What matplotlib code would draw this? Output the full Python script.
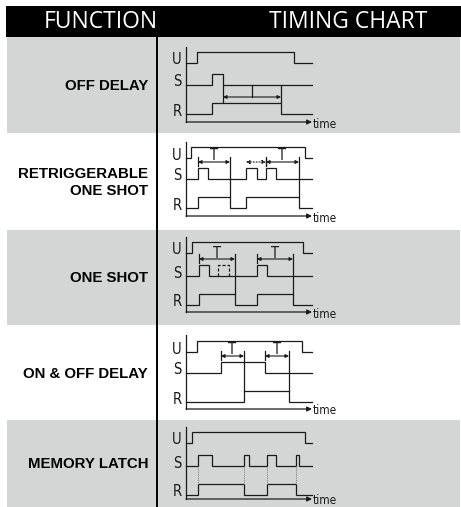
import matplotlib.pyplot as plt
import numpy as np

# Timing chart of relay functions (U = supply, S = control, R = relay output)
functions = ['OFF DELAY', 'RETRIGGERABLE\nONE SHOT', 'ONE SHOT',
             'ON & OFF DELAY', 'MEMORY LATCH']

# switching instants, in time units measured from the chart's left axis
t_end = 126
u_on = [11, 5, 6, 11, 6]
u_off = [108, 119, 117, 116, 119]
s_pulses = [[(26, 37)],
            [(12, 22), (60, 71), (80, 90)],
            [(13, 23), (71, 81)],
            [(35, 79)],
            [(12, 26), (58, 63), (81, 90), (110, 113)]]
s_ghost = [[], [], [(32, 43)], [], []]          # dashed pulse (ignored input)
r_pulses = [[(26, 95)],
            [(12, 44), (60, 113)],
            [(13, 49), (71, 107)],
            [(58, 103)],
            [(12, 58), (81, 110)]]
t_spans = [[(37, 95)],
           [(12, 44), (80, 113)],
           [(13, 49), (71, 107)],
           [(35, 58), (79, 103)],
           []]
t_dotted = [[], [(60, 80)], [], [], []]         # dotted part of a retriggered T
latch_marks = [[], [], [], [], [12, 58, 81, 110]]

# layout (pixels)
W, H = 461, 507
bands = [(37, 133), (133, 230), (230, 325), (325, 420), (420, 507)]
x_axis = 186
x_div = 157
time_y = [122, 216, 312, 409, 499]
u_y = [63, 158, 253, 352, 443]
s_y = [85, 179, 276, 373, 466]
r_y = [114, 208, 305, 402, 495]
top_y = [47, 142, 237, 335, 427]
hi = 11
gray = '#d4d6d5'
ink = '#1a1a1a'
lw = 0.9

fig = plt.figure(figsize=(W / 100, H / 100), dpi=100)
ax = fig.add_axes([0, 0, 1, 1])
ax.set_xlim(0, W)
ax.set_ylim(H, 0)
ax.axis('off')

# header
ax.add_patch(plt.Rectangle((6, 6), W - 6, 31, color='black', lw=0))
ax.text(101, 22, 'FUNCTION', color='white', fontsize=16.5, ha='center',
        va='center', family='Open Sans')
ax.text(348, 22, 'TIMING CHART', color='white', fontsize=16.5, ha='center',
        va='center', family='Open Sans')

for i, (y0, y1) in enumerate(bands):
    if i % 2 == 0:
        ax.add_patch(plt.Rectangle((7, y0), 453, y1 - y0, color=gray, lw=0))
    ax.text(148, (y0 + y1) / 2 + 1, functions[i], ha='right', va='center',
            fontsize=10.8, fontweight='bold', family='Liberation Sans',
            linespacing=1.25)

ax.plot([x_div, x_div], [37, H], color='black', lw=1.4)


def trace(y_low, edges, start, end):
    xs, ys = [start], [y_low]
    for a, b in edges:
        xs += [a, a, b, b]
        ys += [y_low, y_low - hi, y_low - hi, y_low]
    xs.append(end)
    ys.append(y_low)
    ax.plot(x_axis + np.array(xs), ys, color=ink, lw=lw,
            solid_joinstyle='miter')


def arrow(xa, xb, y, ls='-'):
    ax.annotate('', xy=(x_axis + xb, y), xytext=(x_axis + xa, y),
                arrowprops=dict(arrowstyle='<|-|>', color=ink, lw=0.8,
                                ls=ls, mutation_scale=5,
                                shrinkA=0, shrinkB=0))


lab_font = dict(family='DejaVu Sans', stretch='condensed',
                fontsize=10.5, color=ink, ha='center', va='center')

for i in range(len(functions)):
    # axes
    ax.plot([x_axis, x_axis], [top_y[i], time_y[i]], color=ink, lw=lw)
    ax.annotate('', xy=(x_axis + t_end, time_y[i]), xytext=(x_axis, time_y[i]),
                arrowprops=dict(arrowstyle='-|>', color=ink, lw=lw,
                                mutation_scale=7, shrinkA=0, shrinkB=0))
    ax.text(x_axis + t_end + 1, time_y[i] + 2, 'time', ha='left',
            va='center', family='DejaVu Sans', stretch='condensed',
            fontsize=8.5, color=ink)
    for name, yy in zip('USR', (u_y[i], s_y[i], r_y[i])):
        ax.text(x_axis - 9, yy - 3, name, **lab_font)

    trace(u_y[i], [(u_on[i], u_off[i])], 0, t_end)
    trace(s_y[i], s_pulses[i], 0, t_end)
    trace(r_y[i], r_pulses[i], 0, t_end)

    for a, b in s_ghost[i]:
        ax.plot(x_axis + np.array([a, a, b, b]),
                [s_y[i], s_y[i] - hi, s_y[i] - hi, s_y[i]],
                color=ink, lw=lw, ls=(0, (2.5, 1.5)))

    for x in latch_marks[i]:
        ax.plot([x_axis + x] * 2, [s_y[i], r_y[i] - hi], color='#777777',
                lw=0.7, ls=(0, (1, 1)))

    if i == 0:
        # bracket below the S line, T shown as a stem
        for a, b in t_spans[i]:
            ay = s_y[i] + 12
            ax.plot([x_axis + a] * 2, [s_y[i], ay + 5], color=ink, lw=lw)
            ax.plot([x_axis + b] * 2, [s_y[i], ay + 5], color=ink, lw=lw)
            arrow(a, b, ay)
            ax.plot([x_axis + (a + b) / 2] * 2, [s_y[i], ay], color=ink, lw=lw)
        continue

    ay = s_y[i] - hi - 6
    for a, b in t_spans[i]:
        ax.plot([x_axis + a] * 2, [ay - 5, ay + 4], color=ink, lw=lw)
        ax.plot([x_axis + b] * 2, [ay - 5, r_y[i] - hi], color=ink, lw=lw)
        arrow(a, b, ay)
        ax.text(x_axis + (a + b) / 2, ay - 6, 'T', **lab_font)
    for a, b in t_dotted[i]:
        ax.plot([x_axis + b] * 2, [ay - 3, ay + 3], color=ink, lw=lw)
        arrow(a, b, ay, ls=':')

fig.savefig('out.png', dpi=100)
